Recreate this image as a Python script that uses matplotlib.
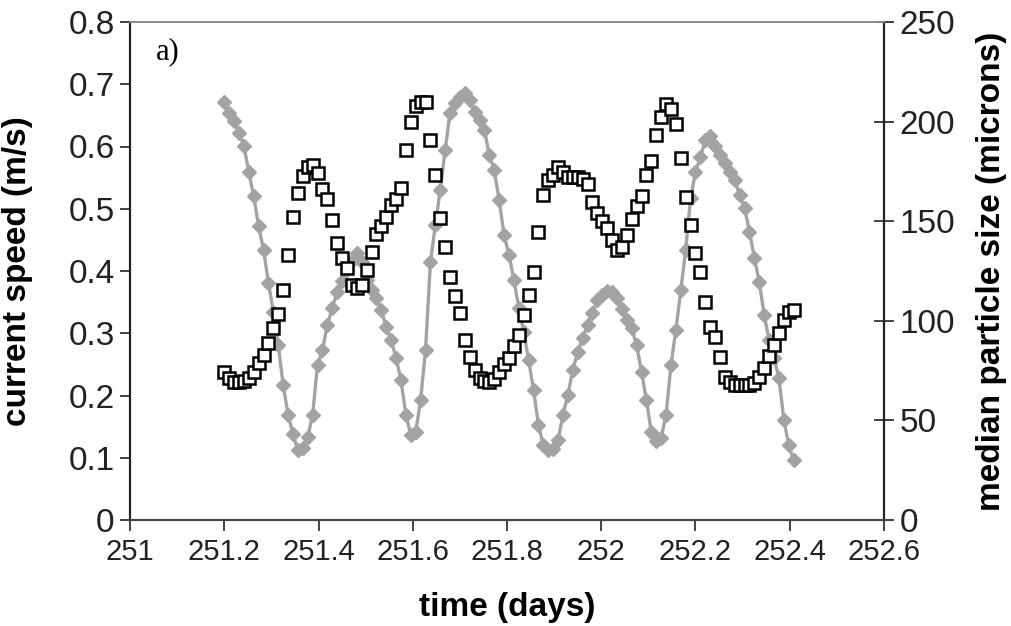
import numpy as np
import matplotlib
matplotlib.use("Agg")
import matplotlib.pyplot as plt
from matplotlib.ticker import FixedLocator

# Sampling: one record every 15 minutes starting at day 251.2
time_start = 251.2
step_days = 15.0 / (24 * 60)

# Current speed (m/s), grey diamonds, left axis
speed = [
    0.671, 0.654, 0.641, 0.622, 0.601, 0.559, 0.520, 0.472, 0.434, 0.381,
    0.334, 0.281, 0.217, 0.169, 0.138, 0.112, 0.116, 0.133, 0.169, 0.249,
    0.273, 0.313, 0.341, 0.366, 0.384, 0.402, 0.416, 0.429, 0.414, 0.386,
    0.369, 0.357, 0.337, 0.310, 0.289, 0.260, 0.225, 0.169, 0.137, 0.141,
    0.193, 0.273, 0.414, 0.474, 0.530, 0.594, 0.654, 0.670, 0.680, 0.686,
    0.675, 0.655, 0.643, 0.627, 0.586, 0.562, 0.514, 0.458, 0.426, 0.386,
    0.341, 0.302, 0.257, 0.209, 0.153, 0.120, 0.112, 0.114, 0.129, 0.169,
    0.201, 0.241, 0.270, 0.292, 0.313, 0.333, 0.353, 0.361, 0.368, 0.366,
    0.357, 0.339, 0.321, 0.308, 0.281, 0.238, 0.193, 0.141, 0.127, 0.132,
    0.169, 0.249, 0.305, 0.369, 0.434, 0.517, 0.559, 0.583, 0.610, 0.617,
    0.601, 0.586, 0.573, 0.559, 0.546, 0.522, 0.501, 0.463, 0.421, 0.382,
    0.329, 0.289, 0.260, 0.228, 0.161, 0.120, 0.096,
]

# Median particle size (microns), open squares, right axis
particle_size = [
    74.3, 71.3, 69.3, 69.3, 69.8, 71.3, 74.3, 78.8, 82.8, 88.9,
    96.4, 103.4, 115.5, 133.0, 152.1, 164.2, 172.7, 177.2, 178.2, 174.0,
    166.2, 161.1, 150.6, 139.1, 131.5, 126.5, 118.0, 116.5, 118.0, 125.5,
    134.5, 143.6, 147.6, 152.1, 158.1, 161.1, 166.7, 185.7, 199.8, 207.8,
    209.8, 209.8, 190.8, 173.2, 151.6, 137.0, 122.0, 112.4, 103.9, 90.4,
    81.8, 75.3, 71.3, 69.8, 69.3, 70.8, 74.3, 78.3, 81.3, 87.3,
    92.9, 102.9, 113.0, 124.5, 144.6, 163.2, 170.7, 173.2, 177.2, 174.7,
    172.2, 172.2, 172.2, 171.2, 168.7, 159.6, 154.1, 150.1, 146.6, 140.6,
    135.5, 137.0, 143.1, 151.1, 157.6, 162.7, 173.2, 180.2, 193.3, 202.3,
    208.8, 206.3, 198.8, 181.7, 162.1, 148.1, 134.0, 124.5, 109.4, 96.9,
    91.9, 81.8, 71.8, 69.3, 67.8, 67.8, 67.8, 67.8, 68.8, 71.8,
    76.3, 82.3, 87.9, 93.9, 100.4, 104.4, 105.4,
]

time_days = time_start + step_days * np.arange(len(speed))

x_ticks = [251.0, 251.2, 251.4, 251.6, 251.8, 252.0, 252.2, 252.4, 252.6]
x_tick_labels = ["251", "251.2", "251.4", "251.6", "251.8", "252",
                 "252.2", "252.4", "252.6"]
speed_ticks = [0, 0.1, 0.2, 0.3, 0.4, 0.5, 0.6, 0.7, 0.8]
speed_tick_labels = ["0", "0.1", "0.2", "0.3", "0.4", "0.5", "0.6", "0.7", "0.8"]
size_ticks = [0, 50, 100, 150, 200, 250]
size_tick_labels = ["0", "50", "100", "150", "200", "250"]

SANS = ["Liberation Sans", "DejaVu Sans"]
SERIF = ["Liberation Serif", "DejaVu Serif"]

plt.rcParams["font.family"] = SANS

fig = plt.figure(figsize=(10.12, 6.26), dpi=100)
ax = fig.add_axes([130 / 1012, 1 - 520 / 626, 754 / 1012, 498 / 626])
ax2 = ax.twinx()

grey = "#a3a3a3"
ax.plot(time_days, speed, color=grey, lw=2.4, marker="D", ms=7,
        mfc=grey, mec=grey, zorder=3)
ax2.plot(time_days, particle_size, linestyle="none", marker="s", ms=8.8,
         mfc="white", mec="black", mew=1.8, zorder=4)

ax.set_xlim(251.0, 252.6)
ax.set_ylim(0, 0.8)
ax2.set_ylim(0, 250)

ax.xaxis.set_major_locator(FixedLocator(x_ticks))
ax.set_xticklabels(x_tick_labels, fontsize=21)
ax.yaxis.set_major_locator(FixedLocator(speed_ticks))
ax.set_yticklabels(speed_tick_labels, fontsize=24)
ax2.yaxis.set_major_locator(FixedLocator(size_ticks))
ax2.set_yticklabels(size_tick_labels, fontsize=24)

ax.tick_params(axis="x", direction="out", length=8, width=1.2, pad=5,
               colors="#222222")
ax.tick_params(axis="y", direction="out", length=7, width=1.2, pad=4,
               colors="#222222")
ax2.tick_params(axis="y", direction="inout", length=14, width=1.2, pad=4,
                colors="#222222")

for a in (ax, ax2):
    a.spines["left"].set_color("#222222")
    a.spines["left"].set_linewidth(1.5)
    a.spines["right"].set_color("#222222")
    a.spines["right"].set_linewidth(1.5)
    a.spines["bottom"].set_color("#444444")
    a.spines["bottom"].set_linewidth(1.5)
    a.spines["top"].set_color("#8c8c8c")
    a.spines["top"].set_linewidth(1.3)

ax.set_xlabel("time (days)", fontsize=24, fontweight="bold")
ax.xaxis.set_label_coords(0.5, -0.145)
ax.set_ylabel("current speed (m/s)", fontsize=24, fontweight="bold")
ax.yaxis.set_label_coords(-0.128, 0.5)
ax2.set_ylabel("median particle size (microns)", fontsize=24,
               fontweight="bold", rotation=90)
ax2.yaxis.set_label_coords(1.122, 0.5)

ax.text(0.034, 0.94, "a)", transform=ax.transAxes, fontsize=22,
        family=SERIF, va="center", ha="left")

fig.savefig("out.png", dpi=100, facecolor="white")
